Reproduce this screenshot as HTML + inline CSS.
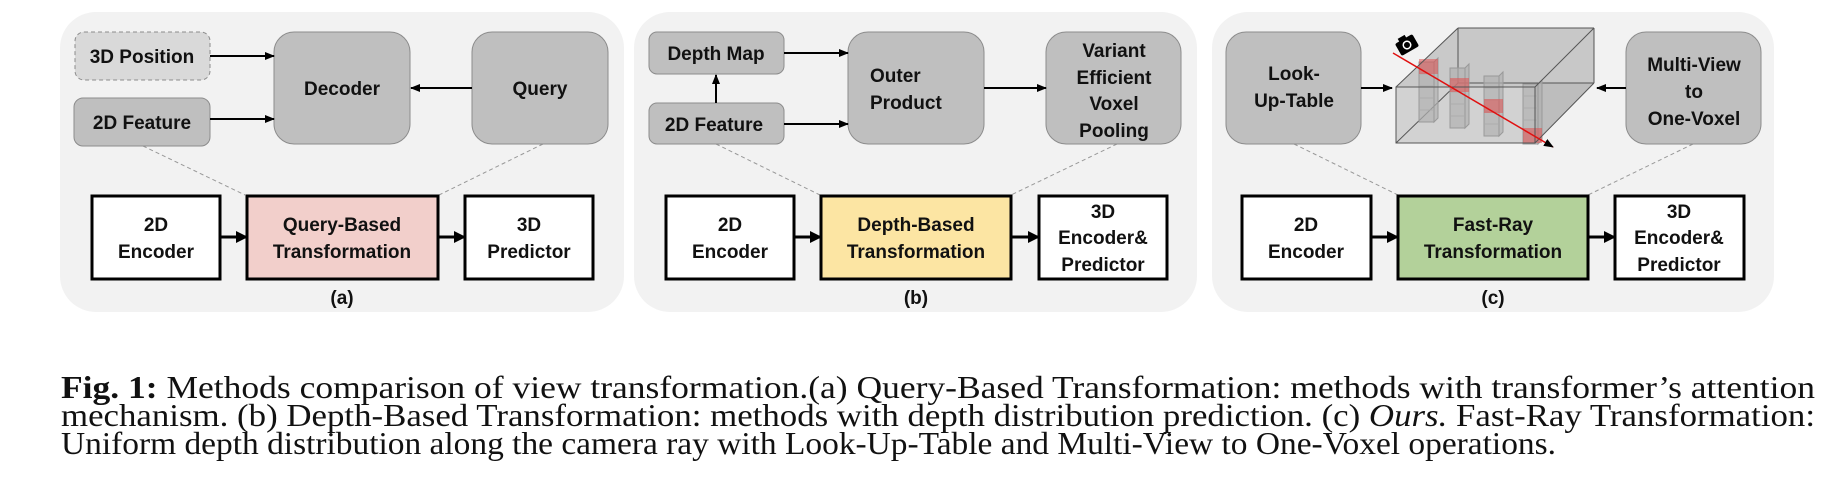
<!DOCTYPE html>
<html><head><meta charset="utf-8"><style>
html,body{margin:0;padding:0;background:#fff;width:1848px;height:490px;overflow:hidden}
svg{position:absolute;left:0;top:0}
.t{font-family:"Liberation Sans",sans-serif;font-weight:bold;font-size:19px;fill:#111;text-anchor:middle}
.cap{position:absolute;left:61px;font-family:"Liberation Serif",serif;font-size:32px;color:#111;white-space:nowrap;transform-origin:0 0;line-height:28px}
</style></head><body>
<svg width="1848" height="490" viewBox="0 0 1848 490">
<defs>
<marker id="ar" markerWidth="10" markerHeight="10" refX="9" refY="5" orient="auto" markerUnits="userSpaceOnUse"><path d="M0,1 L10,5 L0,9 Z" fill="#000"/></marker>
<marker id="ab" markerWidth="12" markerHeight="12" refX="11" refY="6" orient="auto" markerUnits="userSpaceOnUse"><path d="M0,0 L12,6 L0,12 Z" fill="#000"/></marker>
</defs>
<rect x="60" y="12" width="564" height="300" rx="36" fill="#f2f2f2"/>
<rect x="634" y="12" width="563" height="300" rx="36" fill="#f2f2f2"/>
<rect x="1212" y="12" width="562" height="300" rx="36" fill="#f2f2f2"/>

<line x1="143" y1="146" x2="245" y2="195" stroke="#999" stroke-dasharray="4,3"/>
<line x1="543" y1="144" x2="439" y2="195" stroke="#999" stroke-dasharray="4,3"/>
<rect x="75" y="32" width="135" height="48" rx="9" fill="#d9d9d9" stroke="#8c8c8c" stroke-dasharray="4,3"/>
<text class="t" x="142" y="63">3D Position</text>
<rect x="74" y="98" width="136" height="48" rx="9" fill="#bfbfbf" stroke="#8c8c8c"/>
<text class="t" x="142" y="129">2D Feature</text>
<rect x="274" y="32" width="136" height="112" rx="20" fill="#bfbfbf" stroke="#8c8c8c"/>
<text class="t" x="342" y="95">Decoder</text>
<rect x="472" y="32" width="136" height="112" rx="20" fill="#bfbfbf" stroke="#8c8c8c"/>
<text class="t" x="540" y="95">Query</text>
<line x1="210" y1="56" x2="274" y2="56" stroke="#000" stroke-width="2" marker-end="url(#ar)"/>
<line x1="210" y1="119" x2="274" y2="119" stroke="#000" stroke-width="2" marker-end="url(#ar)"/>
<line x1="472" y1="88" x2="411" y2="88" stroke="#000" stroke-width="2" marker-end="url(#ar)"/>
<rect x="92" y="196" width="128" height="83" fill="#fff" stroke="#000" stroke-width="3"/>
<text class="t" x="156" y="231">2D</text><text class="t" x="156" y="258">Encoder</text>
<rect x="247" y="196" width="191" height="83" fill="#f2cfcb" stroke="#000" stroke-width="3"/>
<text class="t" x="342" y="231">Query-Based</text><text class="t" x="342" y="258">Transformation</text>
<rect x="465" y="196" width="128" height="83" fill="#fff" stroke="#000" stroke-width="3"/>
<text class="t" x="529" y="231">3D</text><text class="t" x="529" y="258">Predictor</text>
<line x1="220" y1="237" x2="247" y2="237" stroke="#000" stroke-width="3" marker-end="url(#ab)"/>
<line x1="438" y1="237" x2="465" y2="237" stroke="#000" stroke-width="3" marker-end="url(#ab)"/>
<text class="t" x="342" y="304">(a)</text>

<line x1="716" y1="144" x2="820" y2="195" stroke="#999" stroke-dasharray="4,3"/>
<line x1="1117" y1="144" x2="1011" y2="195" stroke="#999" stroke-dasharray="4,3"/>
<rect x="649" y="32" width="135" height="42" rx="8" fill="#bfbfbf" stroke="#8c8c8c"/>
<text class="t" x="716" y="60">Depth Map</text>
<rect x="649" y="103" width="135" height="41" rx="8" fill="#bfbfbf" stroke="#8c8c8c"/>
<text class="t" x="714" y="131">2D Feature</text>
<line x1="716" y1="103" x2="716" y2="75" stroke="#000" stroke-width="2" marker-end="url(#ar)"/>
<rect x="848" y="32" width="136" height="112" rx="20" fill="#bfbfbf" stroke="#8c8c8c"/>
<text class="t" x="870" y="82" style="text-anchor:start">Outer</text>
<text class="t" x="870" y="109" style="text-anchor:start">Product</text>
<rect x="1046" y="32" width="135" height="112" rx="20" fill="#bfbfbf" stroke="#8c8c8c"/>
<text class="t" x="1114" y="57">Variant</text><text class="t" x="1114" y="84">Efficient</text>
<text class="t" x="1114" y="110">Voxel</text><text class="t" x="1114" y="137">Pooling</text>
<line x1="784" y1="53" x2="848" y2="53" stroke="#000" stroke-width="2" marker-end="url(#ar)"/>
<line x1="784" y1="124" x2="848" y2="124" stroke="#000" stroke-width="2" marker-end="url(#ar)"/>
<line x1="984" y1="88" x2="1046" y2="88" stroke="#000" stroke-width="2" marker-end="url(#ar)"/>
<rect x="666" y="196" width="128" height="83" fill="#fff" stroke="#000" stroke-width="3"/>
<text class="t" x="730" y="231">2D</text><text class="t" x="730" y="258">Encoder</text>
<rect x="821" y="196" width="190" height="83" fill="#fce5a3" stroke="#000" stroke-width="3"/>
<text class="t" x="916" y="231">Depth-Based</text><text class="t" x="916" y="258">Transformation</text>
<rect x="1039" y="196" width="128" height="83" fill="#fff" stroke="#000" stroke-width="3"/>
<text class="t" x="1103" y="218">3D</text><text class="t" x="1103" y="244">Encoder&amp;</text><text class="t" x="1103" y="271">Predictor</text>
<line x1="794" y1="237" x2="821" y2="237" stroke="#000" stroke-width="3" marker-end="url(#ab)"/>
<line x1="1011" y1="237" x2="1039" y2="237" stroke="#000" stroke-width="3" marker-end="url(#ab)"/>
<text class="t" x="916" y="304">(b)</text>

<line x1="1294" y1="144" x2="1398" y2="195" stroke="#999" stroke-dasharray="4,3"/>
<line x1="1693" y1="144" x2="1588" y2="195" stroke="#999" stroke-dasharray="4,3"/>
<rect x="1226" y="32" width="135" height="112" rx="20" fill="#bfbfbf" stroke="#8c8c8c"/>
<text class="t" x="1294" y="80">Look-</text><text class="t" x="1294" y="107">Up-Table</text>
<rect x="1626" y="32" width="135" height="112" rx="20" fill="#bfbfbf" stroke="#8c8c8c"/>
<text class="t" x="1694" y="71">Multi-View</text><text class="t" x="1694" y="98">to</text><text class="t" x="1694" y="125">One-Voxel</text>
<line x1="1361" y1="88" x2="1392" y2="88" stroke="#000" stroke-width="2" marker-end="url(#ar)"/>
<line x1="1626" y1="88" x2="1597" y2="88" stroke="#000" stroke-width="2" marker-end="url(#ar)"/>
<polygon points="1396,87 1458,28 1594,28 1535,87" fill="#c4c4c4" fill-opacity="0.9"/>
<polygon points="1535,87 1594,28 1594,83 1535,143" fill="#bdbdbd"/>
<rect x="1458" y="28" width="136" height="55" fill="#c8c8c8"/>
<rect x="1396" y="87" width="139" height="56" fill="#c9c9c9" fill-opacity="0.8"/>
<g stroke="#555" stroke-width="1" fill="none">
<line x1="1458" y1="28" x2="1458" y2="83"/><line x1="1458" y1="83" x2="1594" y2="83"/><line x1="1458" y1="83" x2="1396" y2="143"/>
</g>
<g stroke="#999" stroke-width="1" fill="#b0b0b0" fill-opacity="0.7">
<rect x="1419" y="62" width="15" height="60"/><polygon points="1434,62 1438,58 1438,118 1434,122"/>
<rect x="1450" y="68" width="15" height="60"/><polygon points="1465,68 1469,64 1469,124 1465,128"/>
<rect x="1484" y="76" width="15" height="60"/><polygon points="1499,76 1503,72 1503,132 1499,136"/>
<rect x="1523" y="84" width="15" height="60"/><polygon points="1538,84 1542,80 1542,140 1538,144"/>
</g>
<g stroke="#aaa" stroke-width="0.8">
<line x1="1419" y1="74" x2="1434" y2="74"/><line x1="1419" y1="86" x2="1434" y2="86"/><line x1="1419" y1="98" x2="1434" y2="98"/><line x1="1419" y1="110" x2="1434" y2="110"/>
<line x1="1450" y1="80" x2="1465" y2="80"/><line x1="1450" y1="92" x2="1465" y2="92"/><line x1="1450" y1="104" x2="1465" y2="104"/><line x1="1450" y1="116" x2="1465" y2="116"/>
<line x1="1484" y1="88" x2="1499" y2="88"/><line x1="1484" y1="100" x2="1499" y2="100"/><line x1="1484" y1="112" x2="1499" y2="112"/><line x1="1484" y1="124" x2="1499" y2="124"/>
<line x1="1523" y1="96" x2="1538" y2="96"/><line x1="1523" y1="108" x2="1538" y2="108"/><line x1="1523" y1="120" x2="1538" y2="120"/><line x1="1523" y1="132" x2="1538" y2="132"/>
</g>
<g fill="#e05050" fill-opacity="0.55">
<rect x="1419" y="59" width="19" height="15"/>
<rect x="1450" y="78" width="19" height="14"/>
<rect x="1484" y="99" width="19" height="14"/>
<rect x="1523" y="128" width="19" height="15"/>
</g>
<g stroke="#555" stroke-width="1" fill="none">
<rect x="1396" y="87" width="139" height="56"/>
<line x1="1396" y1="87" x2="1458" y2="28"/><line x1="1458" y1="28" x2="1594" y2="28"/><line x1="1594" y1="28" x2="1535" y2="87"/><line x1="1594" y1="28" x2="1594" y2="83"/><line x1="1594" y1="83" x2="1535" y2="143"/>
</g>
<line x1="1393" y1="53" x2="1553" y2="147" stroke="#e01010" stroke-width="1.5" marker-end="url(#ar)"/>
<g transform="translate(1407,45) rotate(-30)">
<rect x="-10" y="-7" width="20" height="14" rx="2" fill="#000"/>
<rect x="-5" y="-10" width="8" height="4" fill="#000"/>
<circle cx="0" cy="0" r="4.5" fill="#fff"/><circle cx="0" cy="0" r="3" fill="#000"/>
</g>
<rect x="1242" y="196" width="129" height="83" fill="#fff" stroke="#000" stroke-width="3"/>
<text class="t" x="1306" y="231">2D</text><text class="t" x="1306" y="258">Encoder</text>
<rect x="1398" y="196" width="190" height="83" fill="#b3d19a" stroke="#000" stroke-width="3"/>
<text class="t" x="1493" y="231">Fast-Ray</text><text class="t" x="1493" y="258">Transformation</text>
<rect x="1615" y="196" width="129" height="83" fill="#fff" stroke="#000" stroke-width="3"/>
<text class="t" x="1679" y="218">3D</text><text class="t" x="1679" y="244">Encoder&amp;</text><text class="t" x="1679" y="271">Predictor</text>
<line x1="1371" y1="237" x2="1398" y2="237" stroke="#000" stroke-width="3" marker-end="url(#ab)"/>
<line x1="1588" y1="237" x2="1615" y2="237" stroke="#000" stroke-width="3" marker-end="url(#ab)"/>
<text class="t" x="1493" y="304">(c)</text>
</svg>

<div class="cap" id="l1" style="top:373px"><b>Fig. 1:</b> Methods comparison of view transformation.(a) Query-Based Transformation: methods with transformer’s attention</div>
<div class="cap" id="l2" style="top:401px">mechanism. (b) Depth-Based Transformation: methods with depth distribution prediction. (c) <i>Ours.</i> Fast-Ray Transformation:</div>
<div class="cap" id="l3" style="top:429px">Uniform depth distribution along the camera ray with Look-Up-Table and Multi-View to One-Voxel operations.</div>
<script>
[["l1",1754],["l2",1754],["l3",1495]].forEach(function(p){var e=document.getElementById(p[0]);var w=e.getBoundingClientRect().width;e.style.transform="scaleX("+(p[1]/w)+")";});
</script>
</body></html>
